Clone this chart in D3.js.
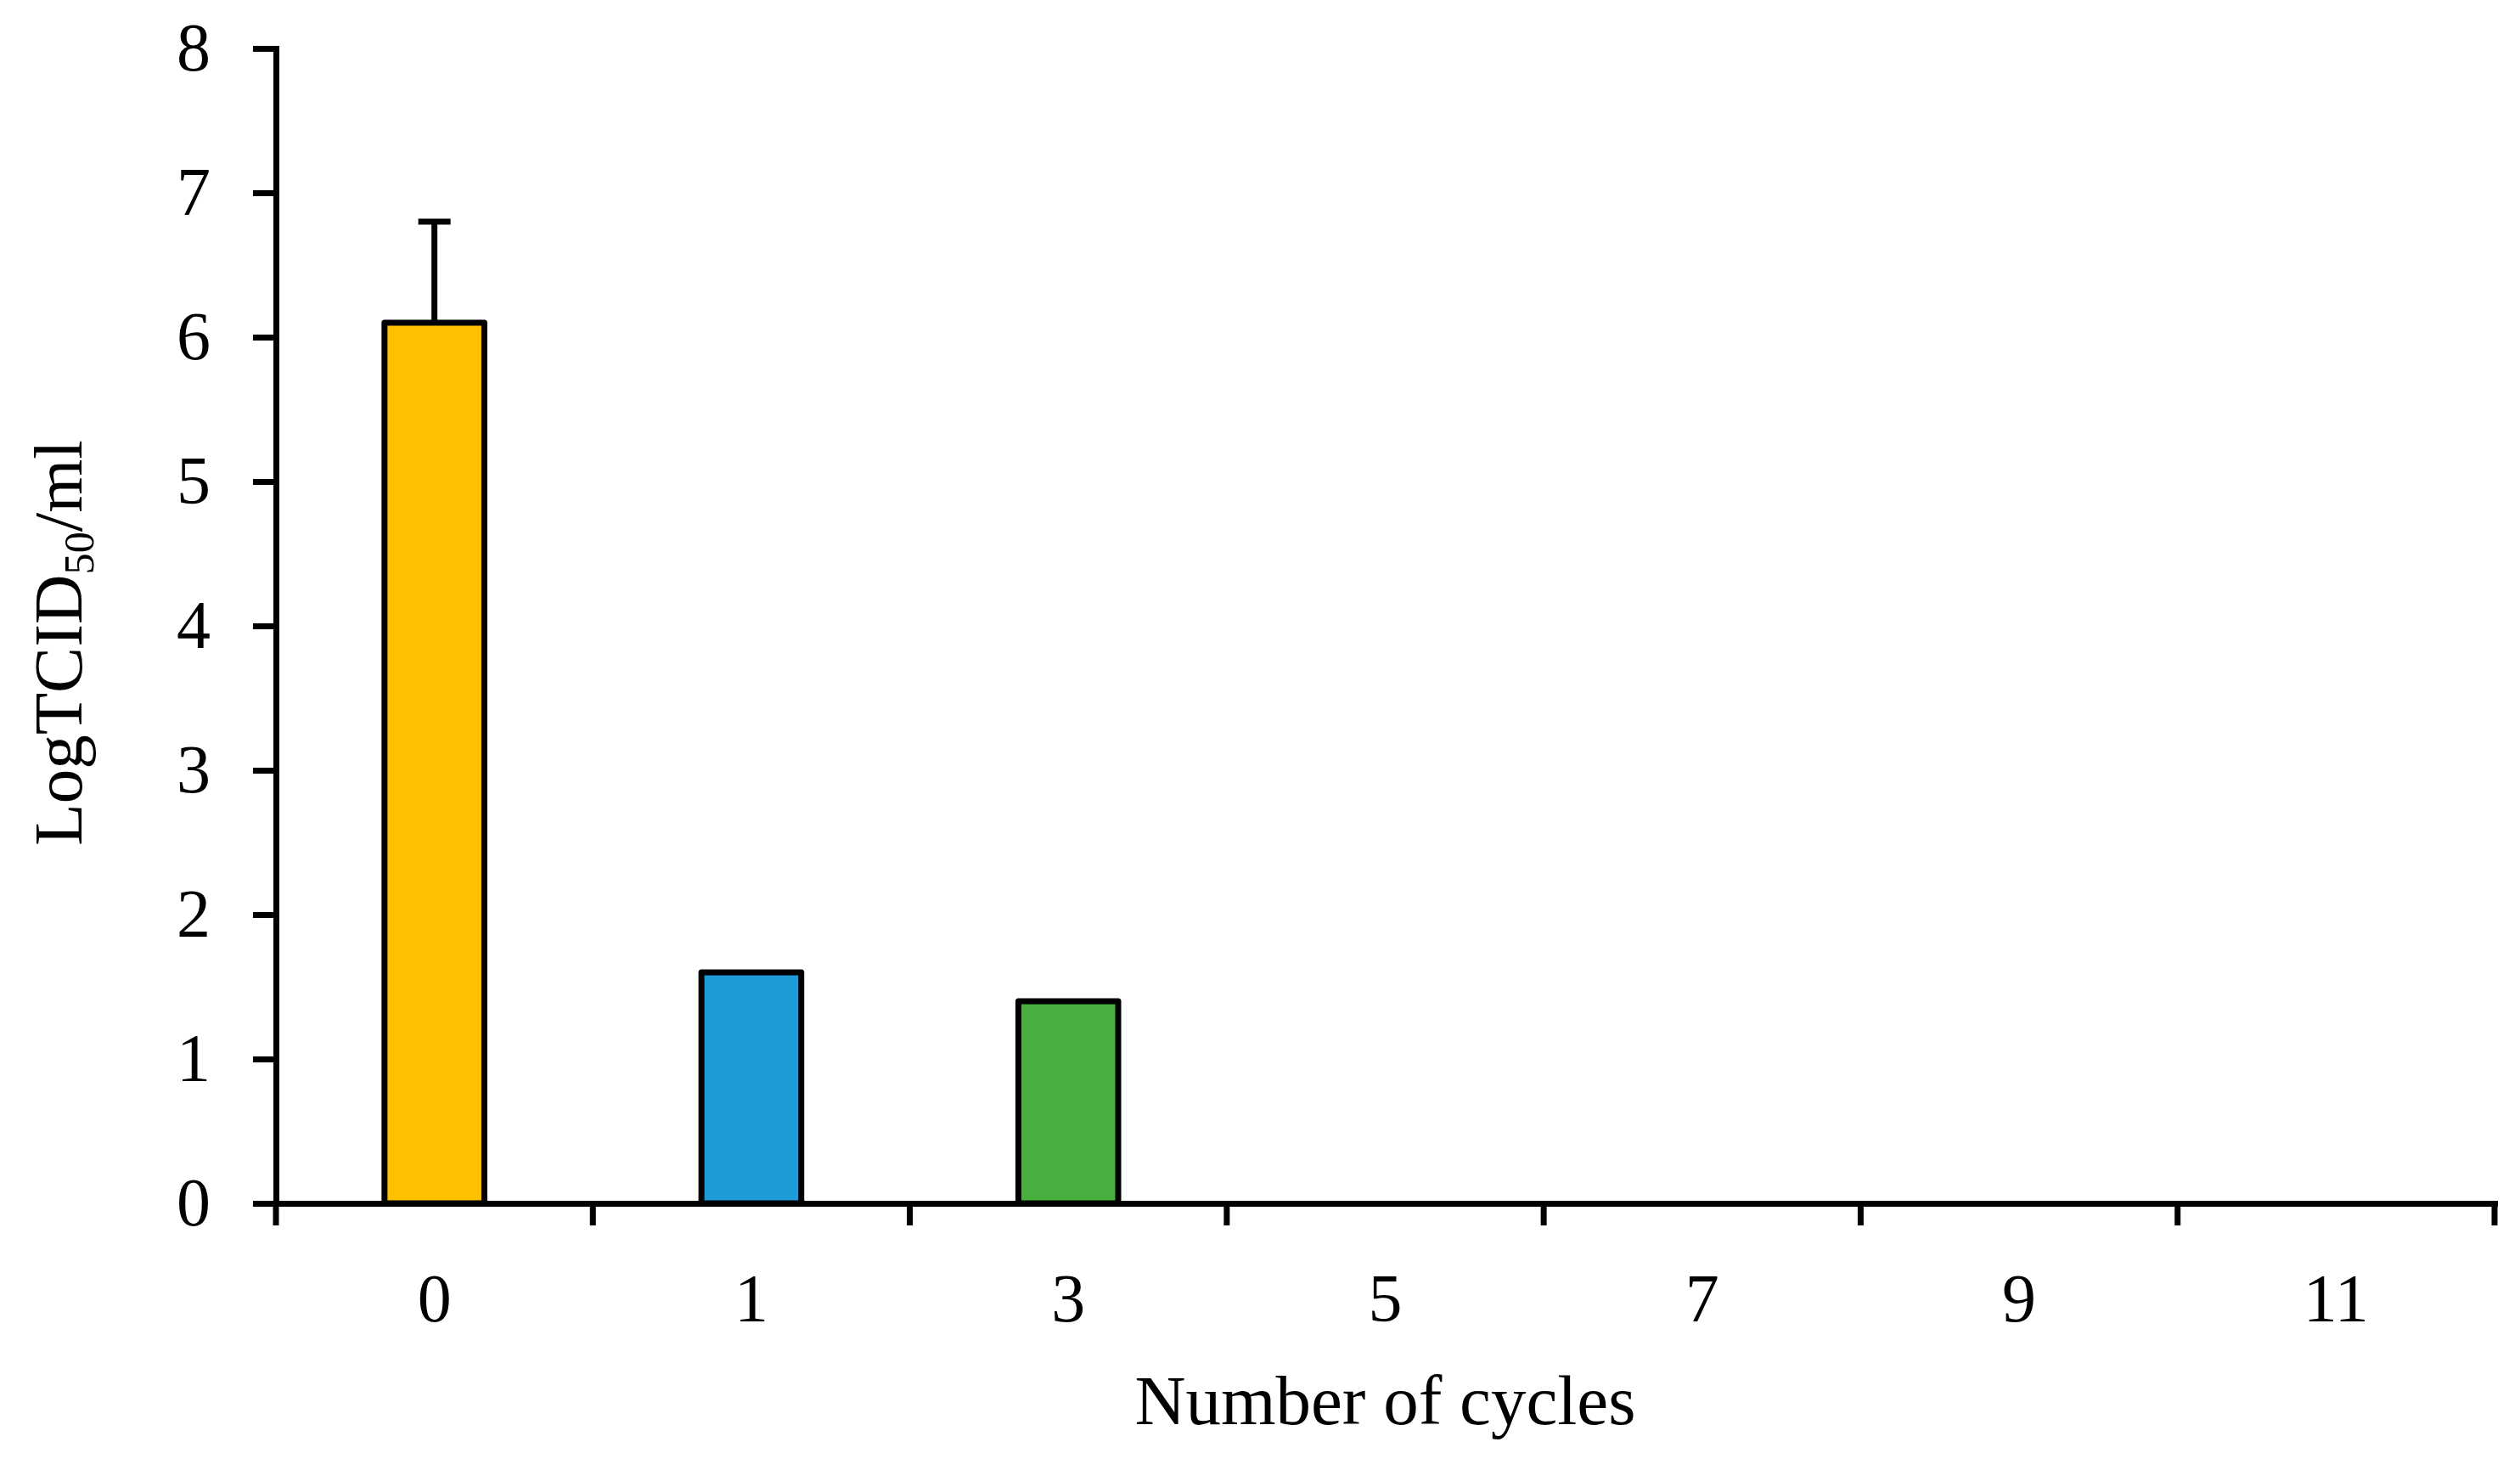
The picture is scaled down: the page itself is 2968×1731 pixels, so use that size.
<!DOCTYPE html>
<html>
<head>
<meta charset="utf-8">
<script src="https://cdn.jsdelivr.net/npm/d3@7"></script>
<style>
  html, body { margin: 0; padding: 0; background: #fff; }
  svg { display: block; }
  text { font-family: "Liberation Serif", "DejaVu Serif", serif; fill: #000; }
</style>
</head>
<body>
<svg id="chart" width="2968" height="1731"></svg>
<script>
// Data
const categories = ["0", "1", "3", "5", "7", "9", "11"];
const values = [6.1, 1.6, 1.4, 0, 0, 0, 0];
const errors = [0.7, 0, 0, 0, 0, 0, 0];
const colors = ["#FFC000", "#1F9BD8", "#46AF3E", "#FFC000", "#FFC000", "#FFC000", "#FFC000"];
const yTicks = [0, 1, 2, 3, 4, 5, 6, 7, 8];

const plotLeft = 325, plotRight = 2938, plotTop = 57, plotBottom = 1417;
const fontSize = 80;
const sw = 7;

const svg = d3.select("#chart");

const x = d3.scaleBand().domain(categories).range([plotLeft, plotRight]).paddingInner(0).paddingOuter(0);
const y = d3.scaleLinear().domain([0, 8]).range([plotBottom, plotTop]);
const barW = x.bandwidth() * 0.315;

// Bars
svg.append("g").selectAll("rect")
  .data(categories.filter((c, i) => values[i] > 0))
  .join("rect")
  .attr("x", d => x(d) + x.bandwidth() / 2 - barW / 2)
  .attr("y", d => y(values[categories.indexOf(d)]))
  .attr("width", barW)
  .attr("height", d => y(0) - y(values[categories.indexOf(d)]))
  .attr("fill", d => colors[categories.indexOf(d)])
  .attr("stroke", "#000")
  .attr("stroke-width", sw)
  .attr("stroke-linejoin", "round");

// Error bars
const eg = svg.append("g").attr("stroke", "#000").attr("stroke-width", sw);
categories.forEach((c, i) => {
  if (errors[i] > 0) {
    const cx = x(c) + x.bandwidth() / 2;
    eg.append("line").attr("x1", cx).attr("x2", cx)
      .attr("y1", y(values[i])).attr("y2", y(values[i] + errors[i]));
    eg.append("line").attr("x1", cx - 19).attr("x2", cx + 19)
      .attr("y1", y(values[i] + errors[i])).attr("y2", y(values[i] + errors[i]));
  }
});

// Y axis
const yAxis = svg.append("g")
  .attr("transform", `translate(${plotLeft},0)`)
  .call(d3.axisLeft(y).tickValues(yTicks).tickSize(27).tickSizeOuter(0).tickPadding(50).tickFormat(d3.format("d")));
yAxis.select(".domain").attr("stroke-width", sw).attr("stroke-linecap", "square");
yAxis.selectAll(".tick line").attr("stroke-width", sw);
yAxis.selectAll(".tick text")
  .attr("font-size", fontSize)
  .attr("font-family", "Liberation Serif, serif");

// X axis (labels)
const xAxis = svg.append("g")
  .attr("transform", `translate(0,${plotBottom})`)
  .call(d3.axisBottom(x).tickSize(0).tickSizeOuter(0).tickPadding(82));
xAxis.select(".domain").attr("stroke-width", sw).attr("stroke-linecap", "square");
xAxis.selectAll(".tick text")
  .attr("font-size", fontSize)
  .attr("font-family", "Liberation Serif, serif");

// X boundary ticks
const boundaries = categories.map(c => x(c)).concat([x(categories[categories.length - 1]) + x.bandwidth()]);
svg.append("g").selectAll("line")
  .data(boundaries)
  .join("line")
  .attr("x1", d => d).attr("x2", d => d)
  .attr("y1", plotBottom).attr("y2", plotBottom + 26)
  .attr("stroke", "#000").attr("stroke-width", sw);

// X axis title
svg.append("text")
  .attr("x", (plotLeft + plotRight) / 2)
  .attr("y", 1677)
  .attr("text-anchor", "middle")
  .attr("font-size", 83)
  .text("Number of cycles");

// Y axis title
const yt = svg.append("text")
  .attr("transform", `translate(96,${757}) rotate(-90)`)
  .attr("text-anchor", "middle")
  .attr("font-size", 81);
yt.append("tspan").text("LogTCID");
yt.append("tspan").attr("font-size", 81 * 0.62).attr("dy", 14).text("50");
yt.append("tspan").attr("dy", -14).text("/ml");
</script>
</body>
</html>
